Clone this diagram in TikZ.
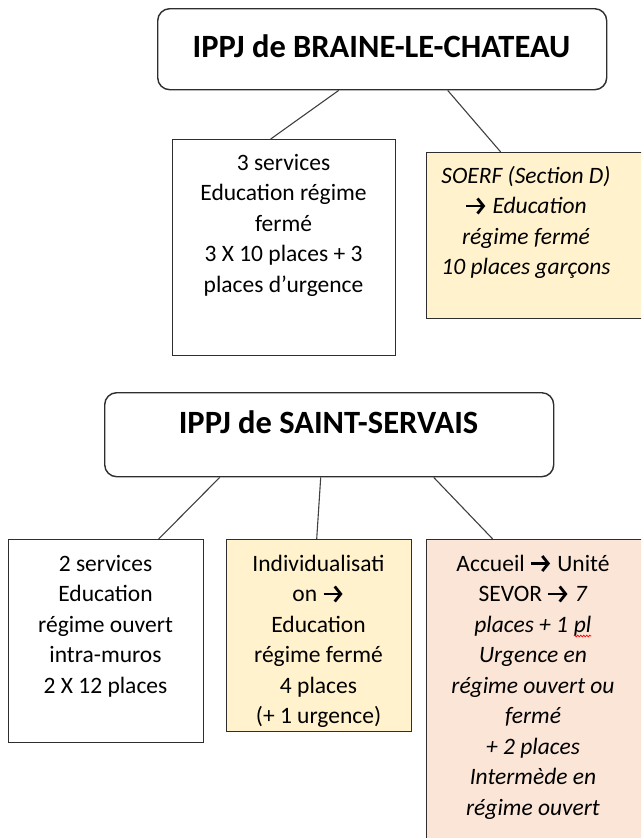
\documentclass[tikz,border=0pt]{standalone}
\usepackage{fontspec}
\setmainfont{Carlito}
\usetikzlibrary{decorations.pathmorphing,arrows.meta}
\definecolor{boxline}{HTML}{2E2E2E}
\definecolor{connline}{HTML}{404040}
\definecolor{paleyellow}{HTML}{FFF2CC}
\definecolor{palepeach}{HTML}{FBE5D6}
\newcommand\arr{\tikz[baseline=0pt,x=1pt,y=1pt]{\path[use as bounding box](0pt,0pt) rectangle (22pt,1pt);\draw[line width=2.8pt,line cap=butt,-{Straight Barb[length=6pt,width=15pt,line width=2.8pt]}](1pt,7.5pt) -- (20pt,7.5pt);}}
\newcommand\wavy[1]{\tikz[baseline=(w.base),x=1pt,y=1pt]{\node[inner sep=0pt,outer sep=0pt](w){#1};\draw[red,line width=0.7pt,decorate,decoration={snake,amplitude=0.9pt,segment length=3pt}]([yshift=-4pt]w.base west) -- ([yshift=-4pt]w.base east);}}
\tikzset{
  titlebox/.style={draw=boxline,line width=1.4pt,rounded corners=12pt,anchor=north west,inner sep=0pt,fill=white},
  plainbox/.style={draw=boxline,line width=1.4pt,anchor=north west,inner sep=0pt},
  titletext/.style={anchor=base,inner sep=0pt,font=\fontsize{32.5}{37}\selectfont\bfseries},
  bodytext/.style={anchor=base,inner sep=0pt,font=\fontsize{23.5}{30.5}\selectfont},
  conn/.style={draw=connline,line width=1.1pt}
}
\begin{document}
\begin{tikzpicture}[x=1pt,y=-1pt]
\clip (0,0) rectangle (641,838);
\useasboundingbox (0,0) rectangle (641,838);
\fill[white] (0,0) rectangle (641,838);
% Braine-le-Chateau
\node[titlebox,minimum width=449pt,minimum height=81pt] (top) at (157,8) {};
\node[titletext] (toptxt) at (381.5,57) {IPPJ de BRAINE-LE-CHATEAU};
\node[plainbox,fill=white,minimum width=223pt,minimum height=216pt] (b1) at (172,139) {};
\node[bodytext] (b1txt) at (283.5,170) {\parbox[t]{220pt}{\centering 3 services\\Education régime\\fermé\\3 X 10 places + 3\\places d’urgence}};
\node[plainbox,fill=paleyellow,minimum width=230pt,minimum height=166pt] (b2) at (426,152) {};
\node[bodytext] (b2txt) at (526,183) {\parbox[t]{220pt}{\centering\itshape SOERF (Section D)\\\arr{} Education\\régime fermé\\10 places garçons}};
\draw[conn] ([xshift=-43.5pt]top.south) -- ([xshift=-13.5pt]b1.north);
\draw[conn] ([xshift=65.5pt]top.south) -- ([xshift=-41pt]b2.north);
% Saint-Servais
\node[titlebox,minimum width=449pt,minimum height=84pt] (ss) at (104,392) {};
\node[titletext] (sstxt) at (328.5,433) {IPPJ de SAINT-SERVAIS};
\node[plainbox,fill=white,minimum width=195pt,minimum height=203pt] (c1) at (8,539) {};
\node[bodytext] (c1txt) at (105.5,571) {\parbox[t]{190pt}{\centering 2 services\\Education\\régime ouvert\\intra-muros\\2 X 12 places}};
\node[plainbox,fill=paleyellow,minimum width=185pt,minimum height=192pt] (c2) at (226,539) {};
\node[bodytext] (c2txt) at (318.5,571) {\parbox[t]{180pt}{\centering Individualisati\\on \arr\\Education\\régime fermé\\4 places\\(+ 1 urgence)}};
\node[plainbox,fill=palepeach,minimum width=230pt,minimum height=320pt] (c3) at (426,539) {};
\node[bodytext] (c3txt) at (533,571) {\parbox[t]{220pt}{\centering Accueil \arr{} Unité\\SEVOR \arr{} \textit{7}\\\itshape places + 1 \wavy{pl}\\Urgence en\\régime ouvert ou\\fermé\\+ 2 places\\Intermède en\\régime ouvert}};
\draw[conn] ([xshift=-109.5pt]ss.south) -- ([xshift=52.5pt]c1.north);
\draw[conn] ([xshift=-8.5pt]ss.south) -- ([xshift=-2.5pt]c2.north);
\draw[conn] ([xshift=104.5pt]ss.south) -- ([xshift=-49pt]c3.north);
\end{tikzpicture}
\end{document}
